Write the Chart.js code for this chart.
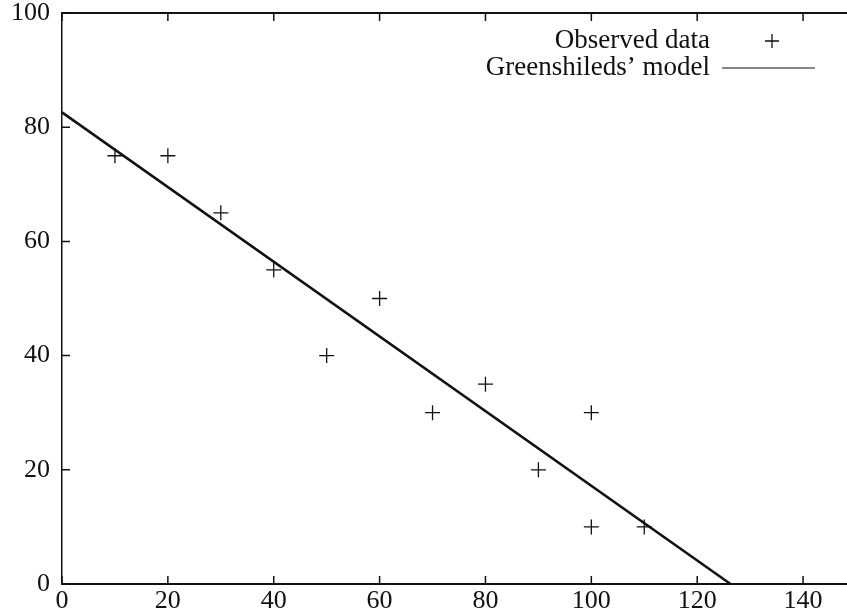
<!DOCTYPE html>
<html>
<head>
<meta charset="utf-8">
<script src="https://cdn.jsdelivr.net/npm/chart.js@4.4.1/dist/chart.umd.min.js"></script>
<style>
	html, body { margin: 0; padding: 0; background: #fff; overflow: hidden; }
	#wrap { width: 870px; height: 615px; }
</style>
</head>
<body>
<div id="wrap"><canvas id="chart"></canvas></div>
<script>
	'use strict';

	// Observed (density, speed) pairs
	const densities = [10, 20, 30, 40, 50, 60, 70, 80, 90, 100, 100, 110];
	const speeds = [75, 75, 65, 55, 40, 50, 30, 35, 20, 30, 10, 10];

	// Greenshields' model: free-flow speed and jam density
	const modelX = [0, 126.3];
	const modelY = [82.6, 0];

	const xTicks = [0, 20, 40, 60, 80, 100, 120, 140];
	const yTicks = [0, 20, 40, 60, 80, 100];

	const FONT = 'Liberation Serif, Times New Roman, serif';

	// gnuplot-style frame: top border, inward ticks and key
	const framePlugin = {
		id: 'frame',
		afterDatasetsDraw(chart) {
			const { ctx, chartArea: a, scales } = chart;
			ctx.save();
			ctx.strokeStyle = '#111';
			ctx.lineWidth = 2;
			ctx.beginPath();
			ctx.moveTo(a.left, a.top);
			ctx.lineTo(a.right, a.top);
			ctx.stroke();

			ctx.lineWidth = 1.5;
			ctx.beginPath();
			xTicks.forEach(v => {
				const px = scales.x.getPixelForValue(v);
				ctx.moveTo(px, a.bottom);
				ctx.lineTo(px, a.bottom - 8);
				ctx.moveTo(px, a.top);
				ctx.lineTo(px, a.top + 8);
			});
			yTicks.forEach(v => {
				const py = scales.y.getPixelForValue(v);
				ctx.moveTo(a.left, py);
				ctx.lineTo(a.left + 8, py);
			});
			ctx.stroke();

			// key
			ctx.font = '27px ' + FONT;
			ctx.fillStyle = '#111';
			ctx.textAlign = 'right';
			ctx.textBaseline = 'middle';
			const textRight = 710;
			const rows = [41, 68];
			chart.data.datasets.forEach((ds, i) => {
				ctx.fillText(ds.label, textRight, rows[i]);
			});
			ctx.lineWidth = 1.3;
			ctx.beginPath();
			ctx.moveTo(772 - 7, rows[0]);
			ctx.lineTo(772 + 7, rows[0]);
			ctx.moveTo(772, rows[0] - 7);
			ctx.lineTo(772, rows[0] + 7);
			ctx.stroke();
			ctx.lineWidth = 1.2;
			ctx.beginPath();
			ctx.moveTo(722, rows[1]);
			ctx.lineTo(815, rows[1]);
			ctx.stroke();
			ctx.restore();
		}
	};

	const onlyListed = list => scale => {
		scale.ticks = list.map(v => ({ value: v }));
	};

	new Chart(document.getElementById('chart'), {
		type: 'scatter',
		data: {
			datasets: [{
				label: 'Observed data',
				data: densities.map((x, i) => ({ x: x, y: speeds[i] })),
				pointStyle: 'cross',
				pointRadius: 7.5,
				borderColor: '#111',
				borderWidth: 1.3,
				showLine: false
			}, {
				label: 'Greenshileds’ model',
				data: modelX.map((x, i) => ({ x: x, y: modelY[i] })),
				showLine: true,
				pointRadius: 0,
				borderColor: '#111',
				borderWidth: 2.5
			}]
		},
		options: {
			responsive: true,
			maintainAspectRatio: false,
			animation: false,
			layout: { padding: { top: 0, right: 14, left: 0, bottom: 0 } },
			plugins: {
				legend: { display: false },
				tooltip: { enabled: false }
			},
			scales: {
				x: {
					type: 'linear',
					min: 0,
					max: 150,
					afterBuildTicks: onlyListed(xTicks),
					afterFit: s => { s.height = 31; },
					grid: { display: false, drawTicks: false },
					border: { display: true, color: '#111', width: 2 },
					ticks: { color: '#111', padding: 2, maxRotation: 0, font: { family: FONT, size: 26 } }
				},
				y: {
					type: 'linear',
					min: 0,
					max: 100,
					afterBuildTicks: onlyListed(yTicks),
					afterFit: s => { s.width = 62; s.paddingTop = 13; s.paddingBottom = 0; },
					grid: { display: false, drawTicks: false },
					border: { display: true, color: '#111', width: 1.5 },
					ticks: { color: '#111', padding: 12, font: { family: FONT, size: 26 } }
				}
			}
		},
		plugins: [framePlugin]
	});
</script>
</body>
</html>
